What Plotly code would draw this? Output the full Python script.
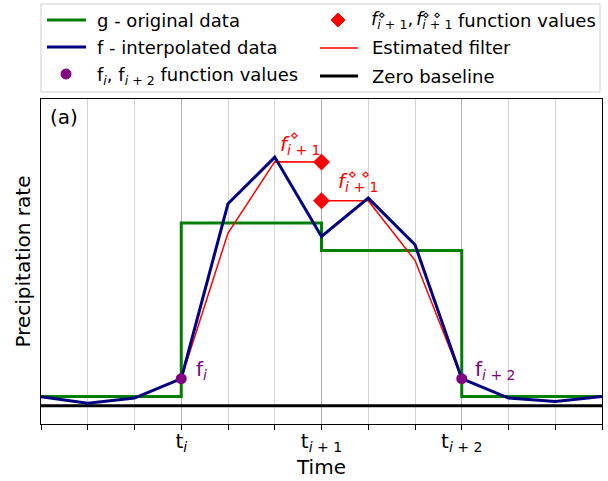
import plotly.graph_objects as go

# Time steps (grid nodes) and tick labels
time = list(range(13))
tick_pos = [3, 6, 9]
tick_text = ["t<sub><i>i</i></sub>", "t<sub><i>i</i> + 1</sub>", "t<sub><i>i</i> + 2</sub>"]

# g - original (block) data, given as step edges
g_time = [0, 3, 6, 9, 12]
g_vals = [0.46, 9.13, 7.76, 0.46, 0.46]

# f - interpolated data at every node
f_vals = [0.45, 0.12, 0.38, 1.35, 10.10, 12.43, 8.46, 10.38, 8.05, 1.35, 0.38, 0.21, 0.46]

# f_i, f_{i+2} function values
fi_time = [3, 9]
fi_vals = [1.35, 1.35]

# Estimated filter: two pieces, (t_i .. t_{i+1}) and (t_{i+1} .. t_{i+2})
filt_time_a = [3, 4, 5, 6]
filt_vals_a = [1.35, 8.63, 12.20, 12.18]
filt_time_b = [6, 7, 8, 9]
filt_vals_b = [10.25, 10.25, 7.27, 1.35]

# f°_{i+1}, f°°_{i+1} function values
fd_time = [6, 6]
fd_vals = [12.18, 10.25]

GREEN = "#008000"
NAVY = "#000080"
RED = "#ff0000"
PURPLE = "#800080"
FONT = "DejaVu Sans"

# Figure / plot-area geometry (pixels)
FIG_W, FIG_H = 608, 481
M_L, M_R, M_T, M_B = 41, 6, 99, 57
PLOT_W = FIG_W - M_L - M_R
PLOT_H = FIG_H - M_T - M_B


def px(x):
    """Pixel column -> paper x."""
    return (x - M_L) / PLOT_W


def py(y):
    """Pixel row (from top) -> paper y."""
    return (M_T + PLOT_H - y) / PLOT_H


fig = go.Figure()

fig.add_trace(go.Scatter(
    x=[time[0], time[-1]], y=[0, 0], mode="lines",
    line=dict(color="black", width=3), name="Zero baseline"))

fig.add_trace(go.Scatter(
    x=g_time, y=g_vals, mode="lines", line_shape="hv",
    line=dict(color=GREEN, width=3), name="g - original data"))

fig.add_trace(go.Scatter(
    x=filt_time_a + [None] + filt_time_b, y=filt_vals_a + [None] + filt_vals_b,
    mode="lines", line=dict(color=RED, width=1.5), connectgaps=False,
    name="Estimated filter"))

fig.add_trace(go.Scatter(
    x=time, y=f_vals, mode="lines",
    line=dict(color=NAVY, width=3), name="f - interpolated data"))

fig.add_trace(go.Scatter(
    x=fi_time, y=fi_vals, mode="markers",
    marker=dict(color=PURPLE, size=11), name="f_i, f_i+2 function values"))

fig.add_trace(go.Scatter(
    x=fd_time, y=fd_vals, mode="markers",
    marker=dict(color=RED, size=13, symbol="diamond"),
    name="f°_i+1, f°°_i+1 function values"))

# ---- labels next to the marked values ----
fig.add_annotation(x=fi_time[0], y=fi_vals[0], text="f<sub><i>i</i></sub>",
                   xanchor="left", yanchor="bottom", xshift=13, yshift=-6,
                   showarrow=False, font=dict(color=PURPLE, size=20))
fig.add_annotation(x=fi_time[1], y=fi_vals[1], text="f<sub><i>i</i> + 2</sub>",
                   xanchor="left", yanchor="bottom", xshift=11, yshift=-6,
                   showarrow=False, font=dict(color=PURPLE, size=20))

fig.add_annotation(x=fd_time[0], y=fd_vals[0], text="<i>f</i><sub><i>i</i> + 1</sub>",
                   xanchor="right", yanchor="bottom", xshift=0, yshift=2,
                   showarrow=False, font=dict(color=RED, size=20))
fig.add_annotation(x=fd_time[0], y=fd_vals[0], text="⋄",
                   xanchor="center", yanchor="middle", xshift=-27, yshift=27,
                   showarrow=False, font=dict(color=RED, size=14))
fig.add_annotation(x=fd_time[1], y=fd_vals[1], text="<i>f</i><sub><i>i</i> + 1</sub>",
                   xanchor="left", yanchor="bottom", xshift=14, yshift=4,
                   showarrow=False, font=dict(color=RED, size=20))
fig.add_annotation(x=fd_time[1], y=fd_vals[1], text="⋄ ⋄",
                   xanchor="center", yanchor="middle", xshift=37, yshift=27,
                   showarrow=False, font=dict(color=RED, size=14))

fig.add_annotation(xref="x domain", yref="y domain", x=0.013, y=0.945,
                   text="(a)", xanchor="left", yanchor="middle",
                   showarrow=False, font=dict(color="black", size=20))

# ---- legend box (two columns, three rows) drawn above the axes ----
shapes = [
    dict(type="rect", xref="paper", yref="paper",
         x0=px(41), x1=px(600), y0=py(92), y1=py(4),
         line=dict(color="#d0d0d0", width=1), fillcolor="white"),
    dict(type="line", xref="paper", yref="paper",
         x0=px(47), x1=px(86), y0=py(20), y1=py(20),
         line=dict(color=GREEN, width=3)),
    dict(type="line", xref="paper", yref="paper",
         x0=px(47), x1=px(86), y0=py(47), y1=py(47),
         line=dict(color=NAVY, width=3)),
    dict(type="circle", xref="paper", yref="paper",
         x0=px(61), x1=px(71), y0=py(79), y1=py(69),
         line=dict(color=PURPLE, width=1), fillcolor=PURPLE),
    dict(type="path", xref="paper", yref="paper",
         path=(f"M {px(338)},{py(13)} L {px(345)},{py(20)} "
               f"L {px(338)},{py(27)} L {px(331)},{py(20)} Z"),
         line=dict(color=RED, width=1), fillcolor=RED),
    dict(type="line", xref="paper", yref="paper",
         x0=px(320), x1=px(358), y0=py(48), y1=py(48),
         line=dict(color=RED, width=1.5)),
    dict(type="line", xref="paper", yref="paper",
         x0=px(320), x1=px(358), y0=py(76), y1=py(76),
         line=dict(color="black", width=3)),
]

legend_texts = [
    (95, 20, "g - original data", 0),
    (95, 47, "f - interpolated data", 0),
    (95, 74, "f<sub><i>i</i></sub>, f<sub><i>i</i> + 2</sub> function values", -2),
    (369, 20, "<i>f</i><sub><i>i</i> + 1</sub>,", 0),
    (414, 20, "<i>f</i><sub><i>i</i> + 1</sub>", 0),
    (456, 20, "function values", 0),
    (370, 48, "Estimated filter", 0),
    (370, 76, "Zero baseline", 0),
]
for x, y, txt, dy in legend_texts:
    fig.add_annotation(xref="paper", yref="paper", x=px(x), y=py(y), text=txt,
                       xanchor="left", yanchor="middle", yshift=dy,
                       showarrow=False, font=dict(color="black", size=18))
for x, txt in [(382, "⋄"), (431, "⋄ ⋄")]:
    fig.add_annotation(xref="paper", yref="paper", x=px(x), y=py(15), text=txt,
                       xanchor="center", yanchor="middle",
                       showarrow=False, font=dict(color="black", size=12))

fig.update_layout(
    width=FIG_W, height=FIG_H,
    margin=dict(l=M_L, r=M_R, t=M_T, b=M_B),
    paper_bgcolor="white", plot_bgcolor="white",
    font=dict(family=FONT, color="black", size=18),
    showlegend=False,
    shapes=shapes,
)

fig.update_xaxes(
    range=[time[0], time[-1]],
    tickmode="array", tickvals=tick_pos, ticktext=tick_text,
    ticks="outside", ticklen=5, tickcolor="black", tickfont=dict(size=20),
    ticklabelstandoff=-6,
    showgrid=True, gridcolor="#b0b0b0", gridwidth=1,
    minor=dict(tickmode="linear", tick0=0, dtick=1, ticks="outside", ticklen=5,
               tickcolor="black", showgrid=True, gridcolor="#d3d3d3", gridwidth=1),
    showline=True, linecolor="black", linewidth=1, mirror=True,
    zeroline=False,
    title=dict(text="Time", font=dict(size=20), standoff=2),
)
fig.update_yaxes(
    range=[-0.915, 15.335],
    showticklabels=False, ticks="", showgrid=False, zeroline=False,
    showline=True, linecolor="black", linewidth=1, mirror=True,
    title=dict(text="Precipitation rate", font=dict(size=20), standoff=4),
)

fig.write_html("out.html")
